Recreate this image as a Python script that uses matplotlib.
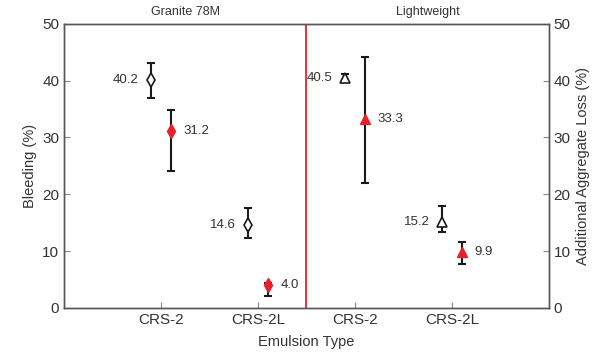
import matplotlib.pyplot as plt

# Datos: sangrado (%) y pérdida adicional de agregado (%)
categories = ["CRS-2", "CRS-2L", "CRS-2", "CRS-2L"]
cat_pos = [1, 2, 3, 4]

bleed_x = [0.9, 1.9, 2.9, 3.9]
bleed = [40.2, 14.6, 40.5, 15.2]
bleed_lo = [37.0, 12.3, 39.8, 13.4]
bleed_hi = [43.1, 17.6, 41.2, 18.0]

loss_x = [1.1, 2.1, 3.1, 4.1]
loss = [31.2, 4.0, 33.3, 9.9]
loss_lo = [24.1, 2.1, 22.0, 7.7]
loss_hi = [34.9, 4.4, 44.2, 11.6]

markers = ["d", "d", "^", "^"]
groups = ["Granite 78M", "Lightweight"]

txt = "#333333"
plt.rcParams["font.family"] = ["Liberation Sans", "DejaVu Sans"]

fig, ax = plt.subplots(figsize=(6.05, 3.56), dpi=100)
fig.subplots_adjust(left=0.106, right=0.907, top=0.933, bottom=0.135)

for i in range(4):
    ax.errorbar(bleed_x[i], bleed[i],
                yerr=[[bleed[i] - bleed_lo[i]], [bleed_hi[i] - bleed[i]]],
                fmt="none", ecolor="#1a1a1a", elinewidth=1.5, capsize=3, capthick=1.5, zorder=2)
    ax.plot(bleed_x[i], bleed[i], marker=markers[i], ms=7, mfc="white",
            mec="#1a1a1a", mew=1.2, ls="none", zorder=3)
    ax.text(bleed_x[i] - 0.13, bleed[i], f"{bleed[i]:.1f}", ha="right", va="center",
            fontsize=9.5, color=txt)

    ax.errorbar(loss_x[i], loss[i],
                yerr=[[loss[i] - loss_lo[i]], [loss_hi[i] - loss[i]]],
                fmt="none", ecolor="#1a1a1a", elinewidth=1.5, capsize=3, capthick=1.5, zorder=2)
    ax.plot(loss_x[i], loss[i], marker=markers[i], ms=7, mfc="#e8202a",
            mec="#e8202a", ls="none", zorder=3)
    ax.text(loss_x[i] + 0.13, loss[i], f"{loss[i]:.1f}", ha="left", va="center",
            fontsize=9.5, color=txt)

# Separador entre agregados
ax.axvline(2.5, color="#e8202a", lw=1.3)

ax.set_xlim(0, 5)
ax.set_ylim(0, 50)
ax.set_xticks(cat_pos)
ax.set_xticklabels(categories, fontsize=11, color=txt)
ax.set_yticks([0, 10, 20, 30, 40, 50])
ax.tick_params(direction="in", colors="#888888", labelcolor=txt, labelsize=11, length=4)
ax.set_xlabel("Emulsion Type", fontsize=10.5, color=txt, labelpad=6)
ax.set_ylabel("Bleeding (%)", fontsize=10.5, color=txt)

ax.text(1.25, 51.0, groups[0], ha="center", va="bottom", fontsize=9, color=txt)
ax.text(3.75, 51.0, groups[1], ha="center", va="bottom", fontsize=9, color=txt)

ax2 = ax.twinx()
ax2.set_ylim(0, 50)
ax2.set_yticks([0, 10, 20, 30, 40, 50])
ax2.tick_params(direction="in", colors="#888888", labelcolor=txt, labelsize=11, length=4)
ax2.set_ylabel("Additional Aggregate Loss (%)", fontsize=10.5, color=txt)

for a in (ax, ax2):
    for s in a.spines.values():
        s.set_color("#555555")
        s.set_linewidth(1.0)

plt.savefig("out.png", dpi=100)
